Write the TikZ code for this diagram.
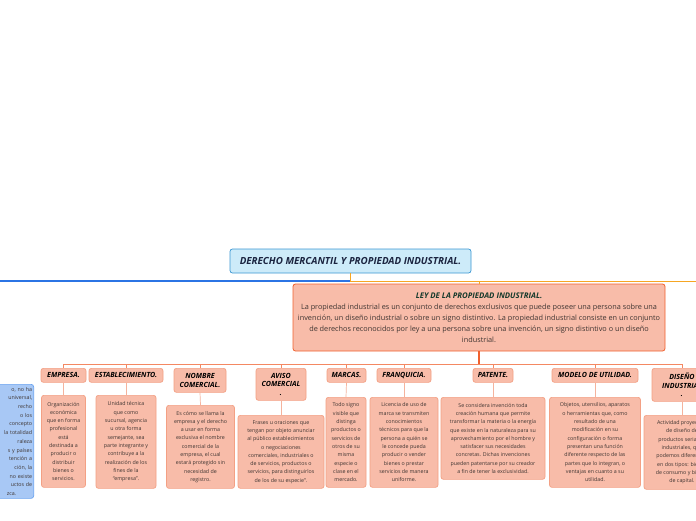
\documentclass[tikz,border=0pt]{standalone}
\usepackage{fontspec}
\setmainfont{Open Sans}

\definecolor{rootfill}{HTML}{CDEBF9}
\definecolor{rootedge}{HTML}{3C97D3}
\definecolor{roottext}{HTML}{1B2440}
\definecolor{blueline}{HTML}{2B74E4}
\definecolor{orangeline}{HTML}{F6A623}
\definecolor{salmon}{HTML}{F8BCA9}
\definecolor{lawedge}{HTML}{F0612E}
\definecolor{headedge}{HTML}{F3A084}
\definecolor{bodytext}{HTML}{3E3431}
\definecolor{lawtitle}{HTML}{163A2C}
\definecolor{notefill}{HTML}{A8C8F5}
\definecolor{noteedge}{HTML}{6AA3F0}

\begin{document}
\begin{tikzpicture}[
  x=1pt, y=-1pt,
  box/.style={
    rounded corners=2.5pt,
    line width=0.7pt,
    inner sep=1.5pt,
    align=center
  },
  rootbox/.style={box, draw=rootedge, fill=rootfill, text=roottext,
    font=\fontsize{9.8}{11}\selectfont\bfseries\itshape},
  lawbox/.style={box, draw=lawedge, fill=salmon, text=bodytext, line width=0.8pt,
    font=\fontsize{7.3}{11}\selectfont},
  headbox/.style={box, draw=headedge, fill=salmon, text=black, anchor=north,
    font=\fontsize{7.1}{8.6}\selectfont\bfseries\itshape},
  descbox/.style={box, draw=headedge, fill=salmon, text=bodytext, anchor=north,
    font=\fontsize{5.3}{8.3}\selectfont},
  notebox/.style={box, draw=noteedge, fill=notefill, text=bodytext, anchor=north east,
    font=\fontsize{5.3}{8.7}\selectfont},
  trunk/.style={draw=lawedge, line width=1.3pt},
  branch/.style={draw=lawedge!75, line width=0.8pt},
  stub/.style={draw=headedge!80, line width=0.7pt}
]
  \useasboundingbox (0,0) rectangle (696,520);
  \clip (0,0) rectangle (696,520);
  \fill[white] (0,0) rectangle (696,520);

  % top of the map
  \node[rootbox,minimum width=241pt,minimum height=24pt] (root) at (350.5,261)
    {DERECHO MERCANTIL Y PROPIEDAD INDUSTRIAL.};
  \node[lawbox,minimum width=372pt,minimum height=67pt] (law) at (479,317.5)
    {{\color{lawtitle}\fontsize{7.8}{11}\selectfont\bfseries\itshape LEY DE LA PROPIEDAD INDUSTRIAL.}\\
     La propiedad industrial es un conjunto de derechos exclusivos que puede poseer una persona sobre una\\
     invención, un diseño industrial o sobre un signo distintivo. La propiedad industrial consiste en un conjunto\\
     de derechos reconocidos por ley a una persona sobre una invención, un signo distintivo o un diseño\\
     industrial.};

  \coordinate (split) at (root.south |- 0,281);
  \coordinate (leftend) at (0,281);
  \coordinate (rightend) at (696,281);
  \draw[draw=blueline,line width=1.1pt] (split) -- (leftend);
  \draw[draw=orangeline,line width=1pt] (root.south) -- (split) -- (rightend);
  \draw[draw=orangeline,line width=1pt] (split) -| (law.north);

  % left branch (cut by the page edge)
  \node[notebox,text width=94pt,align=right,minimum height=114pt] (note) at (34,384)
    {o, no ha\hspace*{6pt}\\
     universal,\hspace*{5pt}\\
     recho\hspace*{13pt}\\
     o los\hspace*{14pt}\\
     concepto\hspace*{1pt}\\
     la totalidad\\
     raleza\hspace*{12pt}\\
     s y países\hspace*{1pt}\\
     tención a\hspace*{2pt}\\
     ción, la\hspace*{10pt}\\
     no existe\hspace*{4pt}\\
     uctos de\hspace*{7pt}\\
     zca.\hspace*{16pt}};

  % headings
  \node[headbox,minimum width=45pt,minimum height=14pt] (empresa) at (63.5,368) {EMPRESA.};
  \node[headbox,minimum width=74pt,minimum height=14pt] (establ) at (126,368) {ESTABLECIMIENTO.};
  \node[headbox,minimum width=52pt,minimum height=24pt] (nombre) at (200,368) {NOMBRE\\COMERCIAL.};
  \node[headbox,minimum width=50pt,minimum height=32pt] (aviso) at (281,368) {AVISO\\COMERCIAL\\.};
  \node[headbox,minimum width=39pt,minimum height=14pt] (marcas) at (346.5,368) {MARCAS.};
  \node[headbox,minimum width=54pt,minimum height=14pt] (franq) at (404,368) {FRANQUICIA.};
  \node[headbox,minimum width=40pt,minimum height=14pt] (patente) at (493,368) {PATENTE.};
  \node[headbox,minimum width=86pt,minimum height=14pt] (modelo) at (595,368) {MODELO DE UTILIDAD.};
  \node[headbox,minimum width=60pt,minimum height=33pt] (diseno) at (682,368) {DISEÑO\\INDUSTRIAL\\.};

  % descriptions
  \node[descbox,minimum width=44pt,minimum height=92pt] (dempresa) at (63.5,395)
    {Organización\\económica\\que en forma\\profesional\\está\\destinada a\\producir o\\distribuir\\bienes o\\servicios.};
  \node[descbox,minimum width=60pt,minimum height=93pt] (destabl) at (126,395)
    {Unidad técnica\\que como\\sucursal, agencia\\u otra forma\\semejante, sea\\parte integrante y\\contribuye a la\\realización de los\\fines de la\\“empresa”.};
  \node[descbox,minimum width=68pt,minimum height=83pt] (dnombre) at (200.5,405)
    {Es cómo se llama la\\empresa y el derecho\\a usar en forma\\exclusiva el nombre\\comercial de la\\empresa, el cual\\estará protegido sin\\necesidad de\\registro.};
  \node[descbox,minimum width=86pt,minimum height=73pt] (daviso) at (281,415)
    {Frases u oraciones que\\tengan por objeto anunciar\\al público establecimientos\\o negociaciones\\comerciales, industriales o\\de servicios, productos o\\servicios, para distinguirlos\\de los de su especie”.};
  \node[descbox,minimum width=40pt,minimum height=90pt] (dmarcas) at (346,397)
    {Todo signo\\visible que\\distinga\\productos o\\servicios de\\otros de su\\misma\\especie o\\clase en el\\mercado.};
  \node[descbox,minimum width=68pt,minimum height=90pt] (dfranq) at (404,397)
    {Licencia de uso de\\marca se transmiten\\conocimientos\\técnicos para que la\\persona a quién se\\le concede pueda\\producir o vender\\bienes o prestar\\servicios de manera\\uniforme.};
  \node[descbox,minimum width=104pt,minimum height=82pt] (dpatente) at (493,397)
    {Se considera invención toda\\creación humana que permite\\transformar la materia o la energía\\que existe en la naturaleza para su\\aprovechamiento por el hombre y\\satisfacer sus necesidades\\concretas. Dichas invenciones\\pueden patentarse por su creador\\a fin de tener la exclusividad.};
  \node[descbox,minimum width=91pt,minimum height=90pt] (dmodelo) at (595,397)
    {Objetos, utensilios, aparatos\\o herramientas que, como\\resultado de una\\modificación en su\\configuración o forma\\presentan una función\\diferente respecto de las\\partes que lo integran, o\\ventajas en cuanto a su\\utilidad.};
  \node[descbox,minimum width=76pt,minimum height=74pt] (ddiseno) at (682,415)
    {Actividad proyectual\\de diseño de\\productos seriados\\industriales, que\\podemos diferenciar\\en dos tipos: bienes\\de consumo y bienes\\de capital.};

  % connectors
  \coordinate (hub) at (law.south |- 0,364);
  \foreach \h in {empresa,establ,nombre,aviso,marcas,franq,patente,modelo,diseno}
    \draw[branch] (hub) -| (\h.north);
  \draw[trunk] (law.south) -- (hub);
  \foreach \h/\d in {empresa/dempresa,establ/destabl,nombre/dnombre,aviso/daviso,marcas/dmarcas,
                     franq/dfranq,patente/dpatente,modelo/dmodelo,diseno/ddiseno}
    \draw[stub] (\h.south) -- (\d.north);
\end{tikzpicture}
\end{document}
